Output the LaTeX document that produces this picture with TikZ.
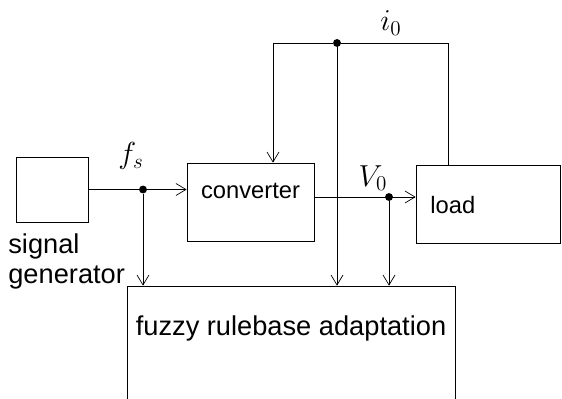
\documentclass[tikz,border=0pt]{standalone}
\usepackage{fontspec}
\setmainfont{Liberation Sans}
\usepackage{amsmath}
\usepackage{tikz}
\usetikzlibrary{arrows.meta, positioning, calc}

\tikzset{
  blocco/.style={draw, thin, inner sep=0pt},
  punto/.style={circle, fill, inner sep=0pt, minimum size=4.5pt},
  freccia/.style={-{Straight Barb[length=2mm, width=2.4mm]}, thin}
}

\begin{document}
\begin{tikzpicture}[font=\fontsize{13.5}{16}\selectfont]
					\useasboundingbox (0,0) rectangle (11.24,7.96);
					
					% Blocchi
					\node[blocco, minimum width=1.44cm, minimum height=1.3cm] (gen) at (1.04,4.17) {};
					\node[blocco, minimum width=2.54cm, minimum height=1.56cm, text depth=0.45cm] (conv) at (5.01,3.92) {converter};
					\node[blocco, minimum width=2.88cm, minimum height=1.56cm] (load) at (9.76,3.88) {};
					\node[blocco, minimum width=6.56cm, minimum height=2.28cm, text depth=0.7cm,
					  font=\fontsize{15.5}{18}\selectfont] (fuzzy) at (5.82,1.1) {fuzzy rulebase adaptation};
					
					% Testi
					\node[anchor=north west, align=left, inner sep=0pt,
					  font=\fontsize{15.5}{17.5}\selectfont] (gentxt) at (0.16,3.3) {signal\\generator};
					\node[anchor=west, inner sep=0pt] (loadtxt) at (8.6,3.86) {load};
					
					% Punti di diramazione
					\node[punto] (fsdot) at (2.86,4.17) {};
					\node[punto] (vdot) at (7.78,4.02) {};
					\node[punto] (idot) at (6.74,7.1) {};
					\coordinate (itl) at (5.46,7.1);
					\coordinate (itr) at (8.96,7.1);
					
					% Etichette
					\node (fs) at (2.62,4.84) {\LARGE$f_s$};
					\node (v0) at (7.46,4.4) {\LARGE$V_0$};
					\node (i0) at (7.82,7.5) {\LARGE$i_0$};
					
					% Linee di connessione
					\draw[freccia] (gen.east) -- (gen.east -| conv.west);
					\draw[freccia] (fsdot) -- (fsdot |- fuzzy.north);
					\draw[freccia] (conv.east |- vdot) -- (vdot -| load.west);
					\draw[freccia] (vdot) -- (vdot |- fuzzy.north);
					\draw[freccia] (idot) -- (itl) -- (itl |- conv.north);
					\draw (idot) -- (itr) -- (itr |- load.north);
					\draw[freccia] (idot) -- (idot |- fuzzy.north);
				\end{tikzpicture}
\end{document}
